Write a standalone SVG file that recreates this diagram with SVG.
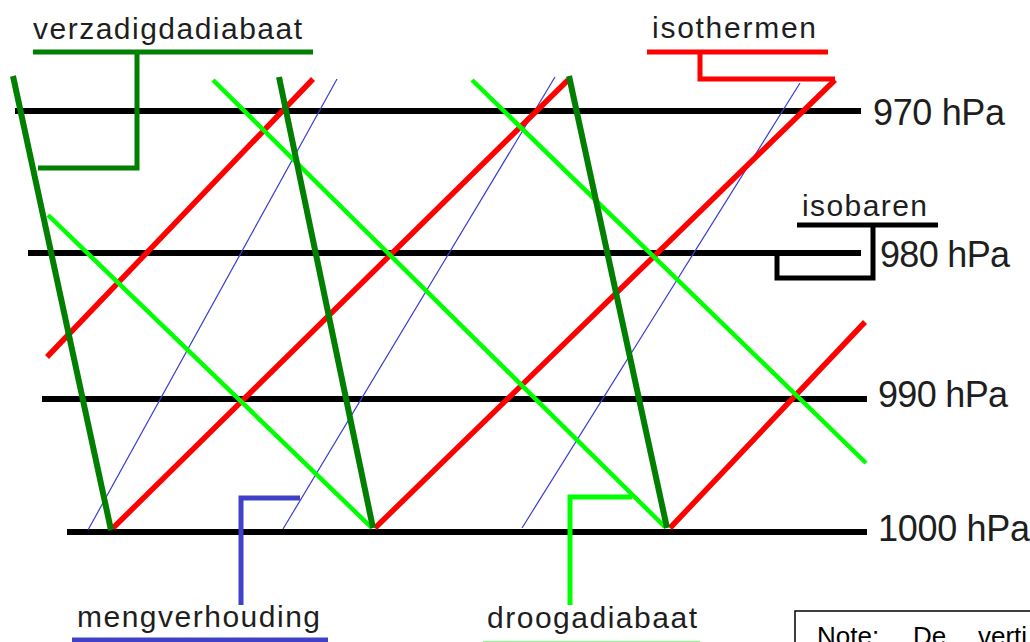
<svg xmlns="http://www.w3.org/2000/svg" width="1030" height="642" viewBox="0 0 1030 642">
<style>
.iso{stroke:#000;stroke-width:6;fill:none}
.vz{stroke:#007f00;stroke-width:6;fill:none}
.dr{stroke:#00ff00;stroke-width:4.5;fill:none}
.it{stroke:#ff0000;stroke-width:5.5;fill:none}
.mv{stroke:#3c3cd0;stroke-width:1.2;fill:none}
.lead{stroke-width:5;fill:none}
.lbl{font-family:"Liberation Sans",Arial,sans-serif;font-size:30px;fill:#1e1e1e}
.hpa{font-family:"Liberation Sans",Arial,sans-serif;font-size:36px;fill:#1e1e1e}
.note{font-family:"Liberation Sans",Arial,sans-serif;font-size:26px;fill:#000}
</style>
<rect width="1030" height="642" fill="#fff"/>
<g id="isobars">
<line class="iso" x1="15" y1="111" x2="861" y2="111"/>
<line class="iso" x1="28" y1="253" x2="861" y2="253"/>
<line class="iso" x1="42" y1="399" x2="867" y2="399"/>
<line class="iso" x1="67" y1="532" x2="867" y2="532"/>
</g>
<g id="mengverhoudingslijnen">
<line class="mv" x1="88" y1="530" x2="337" y2="79"/>
<line class="mv" x1="283" y1="529" x2="555" y2="77"/>
<line class="mv" x1="522" y1="528" x2="800" y2="83"/>
</g>
<g id="isothermen-lijnen">
<line class="it" x1="47" y1="357" x2="313" y2="79"/>
<line class="it" x1="113" y1="528" x2="568" y2="80"/>
<line class="it" x1="375" y1="528" x2="835" y2="80"/>
<line class="it" x1="670" y1="528" x2="865" y2="322"/>
</g>
<g id="droogadiabaten">
<line class="dr" x1="48" y1="215" x2="372" y2="528"/>
<line class="dr" x1="213" y1="80" x2="665" y2="527"/>
<line class="dr" x1="472" y1="80" x2="866" y2="463"/>
</g>
<g id="verzadigdadiabaten">
<line class="vz" x1="13" y1="76" x2="111" y2="530"/>
<line class="vz" x1="279" y1="77" x2="373" y2="528"/>
<line class="vz" x1="569" y1="76" x2="667" y2="528"/>
</g>
<g id="connectors">
<line class="lead" stroke="#007f00" x1="33" y1="52" x2="313" y2="52"/>
<polyline class="lead" stroke="#007f00" points="137,52 137,168 38,168"/>
<line class="lead" stroke="#ff0000" x1="647" y1="52" x2="828" y2="52"/>
<polyline class="lead" stroke="#ff0000" points="700,52 700,79 835,79"/>
<line class="lead" stroke="#000" x1="797" y1="225" x2="938" y2="225"/>
<polyline class="lead" stroke="#000" points="873,225 873,278 777,278 777,253"/>
<line class="lead" stroke="#4141c8" x1="72" y1="640" x2="328" y2="640"/>
<polyline class="lead" stroke="#4141c8" points="241,605 241,498 300,498"/>
<line class="lead" stroke="#00ff00" x1="483" y1="644" x2="700" y2="644"/>
<polyline class="lead" stroke="#00ff00" points="570,605 570,497 632,497"/>
</g>
<g id="label-verzadigdadiabaat"><text class="lbl" x="33" y="39" textLength="269" lengthAdjust="spacing">verzadigdadiabaat</text></g>
<g id="label-isothermen"><text class="lbl" x="652" y="38" textLength="164" lengthAdjust="spacing">isothermen</text></g>
<g id="label-isobaren"><text class="lbl" x="802" y="216" textLength="125" lengthAdjust="spacing">isobaren</text></g>
<g id="label-mengverhouding"><text class="lbl" x="77" y="627" textLength="243" lengthAdjust="spacing">mengverhouding</text></g>
<g id="label-droogadiabaat"><text class="lbl" x="487" y="628" textLength="210" lengthAdjust="spacing">droogadiabaat</text></g>
<g id="label-970"><text class="hpa" x="873" y="125" textLength="132" lengthAdjust="spacing">970 hPa</text></g>
<g id="label-980"><text class="hpa" x="880" y="267" textLength="130" lengthAdjust="spacing">980 hPa</text></g>
<g id="label-990"><text class="hpa" x="878" y="407" textLength="130" lengthAdjust="spacing">990 hPa</text></g>
<g id="label-1000"><text class="hpa" x="878" y="541" textLength="152" lengthAdjust="spacing">1000 hPa</text></g>
<g id="note">
<rect x="795" y="611" width="260" height="60" fill="#fff" stroke="#000" stroke-width="1.5"/>
<text class="note" y="645"><tspan x="817">Note:</tspan><tspan x="913">De</tspan><tspan x="978">verti</tspan></text>
</g>
</svg>
